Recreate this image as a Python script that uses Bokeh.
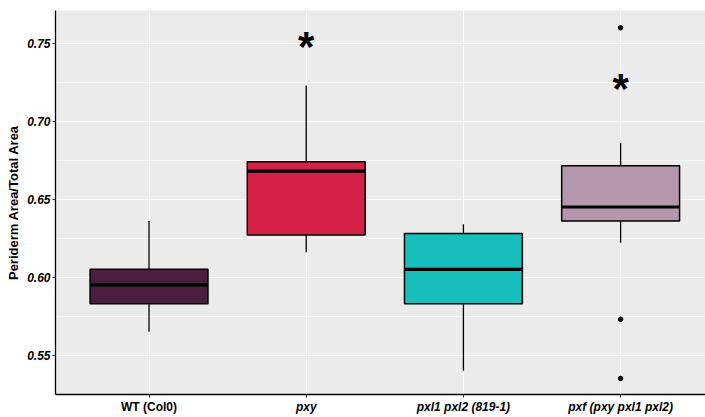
from bokeh.plotting import figure
from bokeh.models import FixedTicker, Range1d, ColumnDataSource
from bokeh.layouts import column
from bokeh.core.properties import value
from bokeh.embed import file_html
from bokeh.resources import INLINE

# ---- data ----
categories = ["WT (Col0)", "pxy", "pxl1 pxl2 (819-1)", "pxf (pxy pxl1 pxl2)"]
positions = [1, 2, 3, 4]
lower_whisker = [0.565, 0.616, 0.540, 0.622]
q1 = [0.583, 0.627, 0.583, 0.636]
median = [0.595, 0.668, 0.605, 0.645]
q3 = [0.605, 0.674, 0.628, 0.6715]
upper_whisker = [0.636, 0.723, 0.634, 0.686]
fill_colors = ["#4B1E3F", "#D62246", "#17BEBB", "#B497AC"]
outlier_group = [4, 4, 4]
outlier_values = [0.760, 0.573, 0.535]
star_group = [2, 4]
star_values = [0.7514, 0.7241]
y_ticks = [0.55, 0.60, 0.65, 0.70, 0.75]
y_minor = [0.575, 0.625, 0.675, 0.725]

FONT = "Liberation Sans"
box_width = 0.75
x_range = Range1d(0.405, 4.540)

p = figure(width=705, height=400, output_backend="svg", toolbar_location=None,
           x_range=x_range, y_range=Range1d(0.5247, 0.7711),
           min_border_left=55, min_border_right=0, min_border_top=10, min_border_bottom=6)
p.background_fill_color = "#EBEBEB"
p.border_fill_color = "white"
p.outline_line_color = None

# grids
p.xgrid.ticker = FixedTicker(ticks=positions, minor_ticks=[])
p.ygrid.ticker = FixedTicker(ticks=y_ticks, minor_ticks=y_minor)
p.xgrid.grid_line_color = "white"
p.xgrid.grid_line_width = 1.1
p.ygrid.grid_line_color = "white"
p.ygrid.grid_line_width = 1.1
p.ygrid.minor_grid_line_color = "white"
p.ygrid.minor_grid_line_width = 0.6

# axes
p.xaxis.ticker = FixedTicker(ticks=positions, minor_ticks=[])
p.xaxis.major_label_overrides = {pos: "" for pos in positions}
p.xaxis.major_label_text_font_size = "0px"
p.xaxis.major_label_standoff = 0
p.yaxis.ticker = FixedTicker(ticks=y_ticks, minor_ticks=y_minor)
p.yaxis.major_label_overrides = {t: f"{t:.2f}" for t in y_ticks}
p.yaxis.major_label_text_font = FONT
p.yaxis.major_label_text_font_size = "12px"
p.yaxis.major_label_text_font_style = "bold italic"
p.yaxis.major_label_text_color = "black"
for ax in (p.xaxis, p.yaxis):
    ax.axis_line_color = "black"
    ax.axis_line_width = 1.3
    ax.major_tick_line_color = "#333333"
    ax.major_tick_out = 3
    ax.major_tick_in = 0
    ax.minor_tick_out = 0
    ax.minor_tick_in = 0
p.yaxis.major_label_standoff = 2
p.yaxis.axis_label = "Periderm Area/Total Area"
p.yaxis.axis_label_text_font = FONT
p.yaxis.axis_label_text_font_size = "13px"
p.yaxis.axis_label_text_font_style = "bold"
p.yaxis.axis_label_text_color = "black"
p.yaxis.axis_label_standoff = 3

src = ColumnDataSource(dict(x=positions, lw=lower_whisker, q1=q1, med=median,
                            q3=q3, uw=upper_whisker, color=fill_colors,
                            xl=[x - box_width / 2 for x in positions],
                            xr=[x + box_width / 2 for x in positions]))

# whiskers
p.segment(x0="x", y0="q3", x1="x", y1="uw", source=src, line_color="black", line_width=1.3)
p.segment(x0="x", y0="lw", x1="x", y1="q1", source=src, line_color="black", line_width=1.3)
# boxes
p.vbar(x="x", width=box_width, bottom="q1", top="q3", source=src,
       fill_color="color", line_color="black", line_width=1.5)
# medians
p.segment(x0="xl", y0="med", x1="xr", y1="med", source=src, line_color="black", line_width=3.2)
# outliers
p.scatter(x=outlier_group, y=outlier_values, size=4.5, color="black")
# significance stars
p.text(x=star_group, y=star_values, text=["*"] * len(star_group),
       text_font=value(FONT), text_font_size="42px", text_font_style="bold",
       text_align="center", text_baseline="middle", text_color="black", y_offset=5)

# category label row (WT upright bold, mutants bold italic)
lab = figure(width=705, height=17, output_backend="svg", toolbar_location=None,
             x_range=x_range, y_range=Range1d(0, 1), x_axis_type=None, y_axis_type=None,
             min_border_left=55, min_border_right=0, min_border_top=0, min_border_bottom=0)
lab.outline_line_color = None
lab.background_fill_color = "white"
lab.border_fill_color = "white"
lab.xgrid.visible = False
lab.ygrid.visible = False
label_styles = ["bold"] + ["bold italic"] * (len(categories) - 1)
lab.text(x=positions, y=[0.62] * len(positions), text=categories,
         text_font=value(FONT), text_font_size="12px", text_font_style=label_styles,
         text_align="center", text_baseline="middle", text_color="black")

layout = column(p, lab, spacing=0)
open("out.html", "w").write(file_html(layout, INLINE))
